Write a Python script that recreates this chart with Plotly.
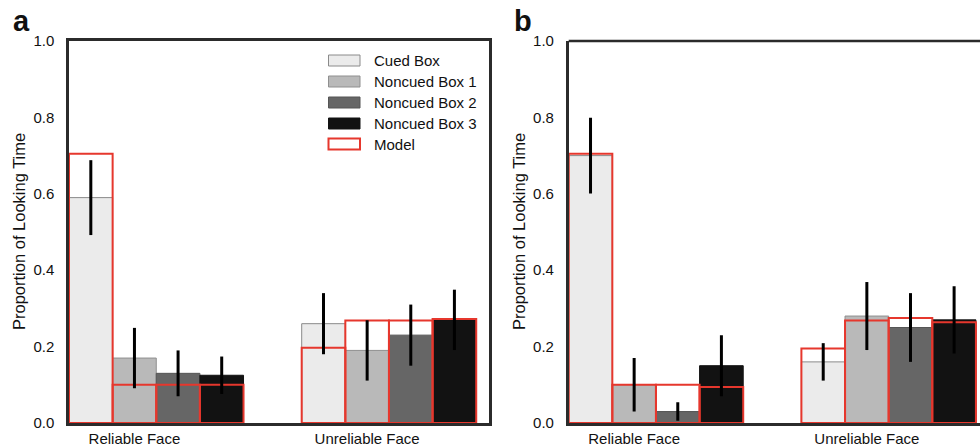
import plotly.graph_objects as go

# ---- data -------------------------------------------------------------
groups = ["Reliable Face", "Unreliable Face"]
boxes = ["Cued Box", "Noncued Box 1", "Noncued Box 2", "Noncued Box 3"]

# panel a: observed looking-time proportions, error half-widths, model predictions
a_reliable = [0.59, 0.17, 0.13, 0.125]
a_reliable_err = [0.098, 0.079, 0.060, 0.049]
a_reliable_model = [0.705, 0.10, 0.10, 0.10]
a_unreliable = [0.26, 0.19, 0.23, 0.27]
a_unreliable_err = [0.080, 0.079, 0.080, 0.079]
a_unreliable_model = [0.197, 0.268, 0.268, 0.272]

# panel b
b_reliable = [0.70, 0.10, 0.03, 0.15]
b_reliable_err = [0.099, 0.070, 0.024, 0.080]
b_reliable_model = [0.705, 0.10, 0.10, 0.094]
b_unreliable = [0.16, 0.28, 0.25, 0.27]
b_unreliable_err = [0.049, 0.089, 0.090, 0.088]
b_unreliable_model = [0.195, 0.268, 0.275, 0.264]

y_ticks = [0.0, 0.2, 0.4, 0.6, 0.8, 1.0]

# ---- styling ----------------------------------------------------------
W, H = 980, 448
FONT = "Liberation Sans, Arial, Helvetica, sans-serif"
box_fill = ["#ebebeb", "#b9b9b9", "#666666", "#121212"]
box_edge = ["#8a8a8a", "#8f8f8f", "#555555", "#121212"]
MODEL_RED = "#e6372d"
FRAME = "#2b2b2b"
BAR_W = 0.1875
group_pos = [0, 1]


def px_x(p):
    return p / W


def px_y(p):
    return 1 - p / H


fig = go.Figure()


def add_panel(xa, ya, rel, rel_err, rel_model, unrel, unrel_err, unrel_model):
    obs = [rel, unrel]
    err = [rel_err, unrel_err]
    mod = [rel_model, unrel_model]
    for i, name in enumerate(boxes):
        xs = [g + (i + 0.5) * BAR_W for g in group_pos]
        fig.add_trace(go.Bar(
            x=xs, y=[obs[k][i] for k in range(2)], width=BAR_W,
            marker=dict(color=box_fill[i], line=dict(color=box_edge[i], width=1)),
            name=name, showlegend=False, xaxis=xa, yaxis=ya,
        ))
    for i in range(len(boxes)):
        xs = [g + (i + 0.5) * BAR_W for g in group_pos]
        fig.add_trace(go.Bar(
            x=xs, y=[mod[k][i] for k in range(2)], width=BAR_W,
            marker=dict(color="rgba(0,0,0,0)", line=dict(color=MODEL_RED, width=2)),
            name="Model", showlegend=False, xaxis=xa, yaxis=ya,
        ))
    for i in range(len(boxes)):
        xs = [g + (i + 0.5) * BAR_W for g in group_pos]
        fig.add_trace(go.Scatter(
            x=xs, y=[obs[k][i] for k in range(2)], mode="markers",
            marker=dict(size=1, color="rgba(0,0,0,0)"),
            error_y=dict(type="data", array=[err[k][i] for k in range(2)],
                         color="black", thickness=3, width=0),
            showlegend=False, hoverinfo="skip", xaxis=xa, yaxis=ya,
        ))


add_panel("x", "y", a_reliable, a_reliable_err, a_reliable_model,
          a_unreliable, a_unreliable_err, a_unreliable_model)
add_panel("x2", "y2", b_reliable, b_reliable_err, b_reliable_model,
          b_unreliable, b_unreliable_err, b_unreliable_model)

group_scale = 232.7  # pixels per group step
a_left, a_right = 69, 489
b_left = 568.7
top_px, bot_px = 41, 423
tickvals = [g + 1.5 * BAR_W for g in group_pos]

xcommon = dict(tickvals=tickvals, ticktext=groups, showgrid=False, zeroline=False,
               showline=True, linecolor=FRAME, linewidth=2.5, ticks="",
               automargin=False,
               tickfont=dict(family=FONT, size=15, color="#111"), ticklabelstandoff=0)
ycommon = dict(range=[0, 1], tickvals=y_ticks, tickformat=".1f", showgrid=False,
               zeroline=False, showline=True, linecolor=FRAME, linewidth=2.5, ticks="",
               automargin=False,
               tickfont=dict(family=FONT, size=15, color="#111"), ticklabelstandoff=9)

fig.update_layout(
    template="none",
    width=W, height=H, margin=dict(l=0, r=0, t=0, b=0, pad=0, autoexpand=False),
    paper_bgcolor="white", plot_bgcolor="white", barmode="overlay",
    showlegend=False,
    xaxis=dict(domain=[px_x(a_left), px_x(a_right)],
               range=[0, (a_right - a_left) / group_scale], mirror=True,
               anchor="y", **xcommon),
    yaxis=dict(domain=[px_y(bot_px), px_y(top_px)], mirror=True, anchor="x", **ycommon),
    xaxis2=dict(domain=[px_x(b_left), 1.0],
                range=[0, (W - b_left) / group_scale], anchor="y2", **xcommon),
    yaxis2=dict(domain=[px_y(bot_px), px_y(top_px)], anchor="x2", **ycommon),
)

# top border of panel b (its right side runs off the page)
fig.add_shape(type="line", xref="paper", yref="paper",
              x0=px_x(b_left), x1=1.0, y0=px_y(top_px), y1=px_y(top_px),
              line=dict(color=FRAME, width=2.5))

# axis titles and panel letters
for cx, letter, lx in [(19, "a", 21.5), (519, "b", 523)]:
    fig.add_annotation(text="Proportion of Looking Time", textangle=-90,
                       xref="paper", yref="paper", x=px_x(cx), y=px_y(232),
                       xanchor="center", yanchor="middle",
                       showarrow=False, font=dict(family=FONT, size=16.5, color="#111"))
    fig.add_annotation(text="<b>%s</b>" % letter, xref="paper", yref="paper",
                       x=px_x(lx), y=px_y(39), xanchor="center", yanchor="bottom",
                       showarrow=False, font=dict(family=FONT, size=29, color="#111"))

# legend drawn inside panel a
legend_rows = [60.5, 81.5, 102.5, 123.5, 144]
legend_labels = boxes + ["Model"]
for r, label in enumerate(legend_labels):
    yc = legend_rows[r]
    if r < 4:
        fill, edge, lw = box_fill[r], box_edge[r], 1
    else:
        fill, edge, lw = "white", MODEL_RED, 2
    fig.add_shape(type="rect", xref="paper", yref="paper",
                  x0=px_x(328.5), x1=px_x(360), y0=px_y(yc + 5.5), y1=px_y(yc - 5.5),
                  fillcolor=fill, line=dict(color=edge, width=lw))
    fig.add_annotation(text=label, xref="paper", yref="paper",
                       x=px_x(371.5), y=px_y(yc), xanchor="left", yanchor="middle",
                       showarrow=False, font=dict(family=FONT, size=15, color="#111"))

fig.write_html("out.html")
